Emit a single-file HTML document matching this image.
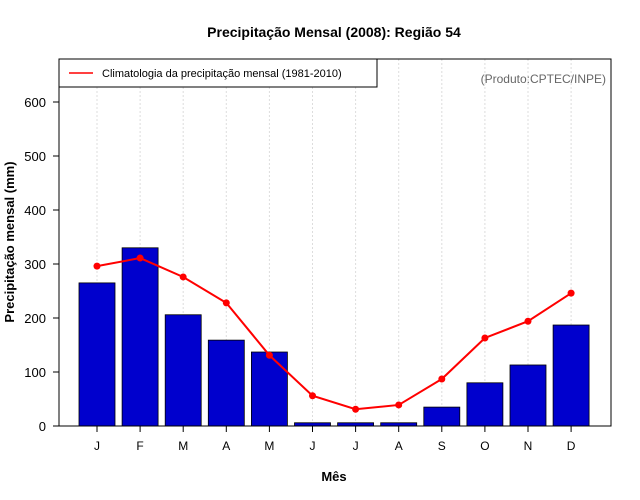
<!DOCTYPE html>
<html><head><meta charset="utf-8"><style>
body{margin:0;background:#fff}
svg{display:block;font-family:"Liberation Sans",Arial,sans-serif}
</style></head><body>
<svg id="chart" width="640" height="500">
<text x="334" y="37" text-anchor="middle" font-size="14" font-weight="bold">Precipitação Mensal (2008): Região 54</text>
<g id="grid"></g>
<g id="bars"></g>
<g id="line"></g>
<rect x="59" y="59" width="552" height="367" fill="none" stroke="#000"/>
<g id="yaxis"></g>
<g id="xaxis"></g>
<text x="334" y="481" text-anchor="middle" font-size="13" font-weight="bold">Mês</text>
<text transform="translate(14,242) rotate(-90)" text-anchor="middle" font-size="13" font-weight="bold">Precipitação mensal (mm)</text>
<g>
<rect x="59" y="59" width="318" height="28" fill="#fff" stroke="#000"/>
<line x1="69" y1="73" x2="93" y2="73" stroke="#f00" stroke-width="1.5"/>
<text x="102" y="77" font-size="11">Climatologia da precipitação mensal (1981-2010)</text>
</g>
<text x="606" y="83" text-anchor="end" font-size="12" fill="#666">(Produto:CPTEC/INPE)</text>
</svg>
<script>
const months=["J","F","M","A","M","J","J","A","S","O","N","D"];
const observed=[265,330,206,159,137,6,6,6,35,80,113,187];
const climatology=[296,311,276,228,131,56,31,39,87,163,194,246];
const yTicks=[0,100,200,300,400,500,600];
const NS="http://www.w3.org/2000/svg";
const x=i=>97+i*43.1;
const y=v=>426-v*0.54;
function mk(tag,attrs,parent,txt){const e=document.createElementNS(NS,tag);for(const k in attrs)e.setAttribute(k,attrs[k]);if(txt!==undefined)e.textContent=txt;document.getElementById(parent).appendChild(e);return e;}
months.forEach((m,i)=>{
  const g=mk("line",{x1:x(i),x2:x(i),y1:59,y2:426,stroke:"#ddd","stroke-dasharray":"2,2"},"grid");
  
  
  const b=mk("rect",{x:x(i)-18,y:y(observed[i]),width:36,height:observed[i]*0.54,fill:"#0000cd",stroke:"#000","stroke-width":0.8},"bars");
  
  
  const t=mk("text",{x:x(i),y:450,"text-anchor":"middle","font-size":12},"xaxis",m);
  
  
  mk("line",{x1:x(i),x2:x(i),y1:426,y2:432,stroke:"#000"},"xaxis");
});
const pl=mk("polyline",{points:climatology.map((v,i)=>x(i)+","+y(v)).join(" "),fill:"none",stroke:"#f00","stroke-width":2},"line");


climatology.forEach((v,i)=>{
  const c=mk("circle",{cx:x(i),cy:y(v),r:3.5,fill:"#f00"},"line");
  
  
});
yTicks.forEach(v=>{
  mk("line",{x1:53,x2:59,y1:y(v),y2:y(v),stroke:"#000"},"yaxis");
  const t=mk("text",{x:46,y:y(v)+5,"text-anchor":"end","font-size":13},"yaxis",v);
  
  
});
</script>
</body></html>
